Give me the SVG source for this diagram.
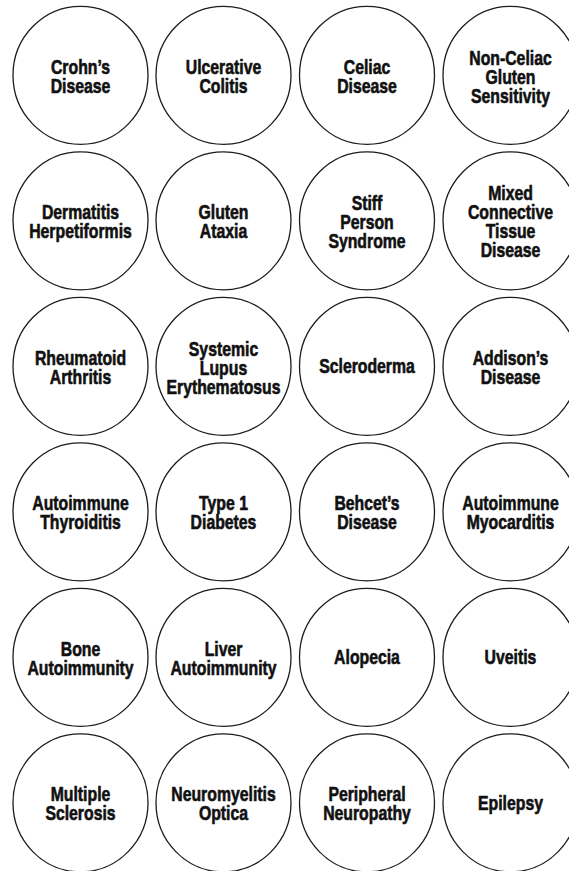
<svg xmlns="http://www.w3.org/2000/svg" width="569" height="871" viewBox="0 0 569 871">
  <style>
    .c { fill: #ffffff; stroke: #1c1c1c; stroke-width: 1.3; }
    .t { font-family: "Liberation Sans", Arial, sans-serif; font-weight: bold; font-size: 19.5px; fill: #111111; stroke: #111111; stroke-width: 0.6; stroke-linejoin: round; text-anchor: middle; }
  </style>
  <rect width="569" height="871" fill="#ffffff"/>

  <!-- Row 1 (cy 75.3) -->
  <g id="crohns" transform="translate(80.5 75.3)">
    <ellipse class="c" rx="67.5" ry="69"/>
    <text class="t" transform="scale(0.81 1)"><tspan x="0" y="-1.5">Crohn’s</tspan><tspan x="0" y="17.5">Disease</tspan></text>
  </g>
  <g id="ulcerative-colitis" transform="translate(223.5 75.3)">
    <ellipse class="c" rx="67.5" ry="69"/>
    <text class="t" transform="scale(0.81 1)"><tspan x="0" y="-1.5">Ulcerative</tspan><tspan x="0" y="17.5">Colitis</tspan></text>
  </g>
  <g id="celiac" transform="translate(367 75.3)">
    <ellipse class="c" rx="67.5" ry="69"/>
    <text class="t" transform="scale(0.81 1)"><tspan x="0" y="-1.5">Celiac</tspan><tspan x="0" y="17.5">Disease</tspan></text>
  </g>
  <g id="ncgs" transform="translate(510.5 75.3)">
    <ellipse class="c" rx="67.5" ry="69"/>
    <text class="t" transform="scale(0.81 1)"><tspan x="0" y="-10.5">Non-Celiac</tspan><tspan x="0" y="8.5">Gluten</tspan><tspan x="0" y="27.5">Sensitivity</tspan></text>
  </g>

  <!-- Row 2 (cy 220.8) -->
  <g id="dermatitis-herpetiformis" transform="translate(80.5 220.8)">
    <ellipse class="c" rx="67.5" ry="69"/>
    <text class="t" transform="scale(0.81 1)"><tspan x="0" y="-1.5">Dermatitis</tspan><tspan x="0" y="17.5">Herpetiformis</tspan></text>
  </g>
  <g id="gluten-ataxia" transform="translate(223.5 220.8)">
    <ellipse class="c" rx="67.5" ry="69"/>
    <text class="t" transform="scale(0.81 1)"><tspan x="0" y="-1.5">Gluten</tspan><tspan x="0" y="17.5">Ataxia</tspan></text>
  </g>
  <g id="stiff-person" transform="translate(367 220.8)">
    <ellipse class="c" rx="67.5" ry="69"/>
    <text class="t" transform="scale(0.81 1)"><tspan x="0" y="-10.5">Stiff</tspan><tspan x="0" y="8.5">Person</tspan><tspan x="0" y="27.5">Syndrome</tspan></text>
  </g>
  <g id="mctd" transform="translate(510.5 220.8)">
    <ellipse class="c" rx="67.5" ry="69"/>
    <text class="t" transform="scale(0.81 1)"><tspan x="0" y="-20.5">Mixed</tspan><tspan x="0" y="-1.5">Connective</tspan><tspan x="0" y="17.5">Tissue</tspan><tspan x="0" y="36.5">Disease</tspan></text>
  </g>

  <!-- Row 3 (cy 366.3) -->
  <g id="rheumatoid-arthritis" transform="translate(80.5 366.3)">
    <ellipse class="c" rx="67.5" ry="69"/>
    <text class="t" transform="scale(0.81 1)"><tspan x="0" y="-1.5">Rheumatoid</tspan><tspan x="0" y="17.5">Arthritis</tspan></text>
  </g>
  <g id="sle" transform="translate(223.5 366.3)">
    <ellipse class="c" rx="67.5" ry="69"/>
    <text class="t" transform="scale(0.81 1)"><tspan x="0" y="-10.5">Systemic</tspan><tspan x="0" y="8.5">Lupus</tspan><tspan x="0" y="27.5">Erythematosus</tspan></text>
  </g>
  <g id="scleroderma" transform="translate(367 366.3)">
    <ellipse class="c" rx="67.5" ry="69"/>
    <text class="t" transform="scale(0.81 1)"><tspan x="0" y="7">Scleroderma</tspan></text>
  </g>
  <g id="addisons" transform="translate(510.5 366.3)">
    <ellipse class="c" rx="67.5" ry="69"/>
    <text class="t" transform="scale(0.81 1)"><tspan x="0" y="-1.5">Addison’s</tspan><tspan x="0" y="17.5">Disease</tspan></text>
  </g>

  <!-- Row 4 (cy 511.8) -->
  <g id="autoimmune-thyroiditis" transform="translate(80.5 511.8)">
    <ellipse class="c" rx="67.5" ry="69"/>
    <text class="t" transform="scale(0.81 1)"><tspan x="0" y="-1.5">Autoimmune</tspan><tspan x="0" y="17.5">Thyroiditis</tspan></text>
  </g>
  <g id="type1-diabetes" transform="translate(223.5 511.8)">
    <ellipse class="c" rx="67.5" ry="69"/>
    <text class="t" transform="scale(0.81 1)"><tspan x="0" y="-1.5">Type 1</tspan><tspan x="0" y="17.5">Diabetes</tspan></text>
  </g>
  <g id="behcets" transform="translate(367 511.8)">
    <ellipse class="c" rx="67.5" ry="69"/>
    <text class="t" transform="scale(0.81 1)"><tspan x="0" y="-1.5">Behcet’s</tspan><tspan x="0" y="17.5">Disease</tspan></text>
  </g>
  <g id="autoimmune-myocarditis" transform="translate(510.5 511.8)">
    <ellipse class="c" rx="67.5" ry="69"/>
    <text class="t" transform="scale(0.81 1)"><tspan x="0" y="-1.5">Autoimmune</tspan><tspan x="0" y="17.5">Myocarditis</tspan></text>
  </g>

  <!-- Row 5 (cy 657.3) -->
  <g id="bone-autoimmunity" transform="translate(80.5 657.3)">
    <ellipse class="c" rx="67.5" ry="69"/>
    <text class="t" transform="scale(0.81 1)"><tspan x="0" y="-1.5">Bone</tspan><tspan x="0" y="17.5">Autoimmunity</tspan></text>
  </g>
  <g id="liver-autoimmunity" transform="translate(223.5 657.3)">
    <ellipse class="c" rx="67.5" ry="69"/>
    <text class="t" transform="scale(0.81 1)"><tspan x="0" y="-1.5">Liver</tspan><tspan x="0" y="17.5">Autoimmunity</tspan></text>
  </g>
  <g id="alopecia" transform="translate(367 657.3)">
    <ellipse class="c" rx="67.5" ry="69"/>
    <text class="t" transform="scale(0.81 1)"><tspan x="0" y="7">Alopecia</tspan></text>
  </g>
  <g id="uveitis" transform="translate(510.5 657.3)">
    <ellipse class="c" rx="67.5" ry="69"/>
    <text class="t" transform="scale(0.81 1)"><tspan x="0" y="7">Uveitis</tspan></text>
  </g>

  <!-- Row 6 (cy 802.8) -->
  <g id="multiple-sclerosis" transform="translate(80.5 802.8)">
    <ellipse class="c" rx="67.5" ry="69"/>
    <text class="t" transform="scale(0.81 1)"><tspan x="0" y="-1.5">Multiple</tspan><tspan x="0" y="17.5">Sclerosis</tspan></text>
  </g>
  <g id="neuromyelitis-optica" transform="translate(223.5 802.8)">
    <ellipse class="c" rx="67.5" ry="69"/>
    <text class="t" transform="scale(0.81 1)"><tspan x="0" y="-1.5">Neuromyelitis</tspan><tspan x="0" y="17.5">Optica</tspan></text>
  </g>
  <g id="peripheral-neuropathy" transform="translate(367 802.8)">
    <ellipse class="c" rx="67.5" ry="69"/>
    <text class="t" transform="scale(0.81 1)"><tspan x="0" y="-1.5">Peripheral</tspan><tspan x="0" y="17.5">Neuropathy</tspan></text>
  </g>
  <g id="epilepsy" transform="translate(510.5 802.8)">
    <ellipse class="c" rx="67.5" ry="69"/>
    <text class="t" transform="scale(0.81 1)"><tspan x="0" y="7">Epilepsy</tspan></text>
  </g>
</svg>
